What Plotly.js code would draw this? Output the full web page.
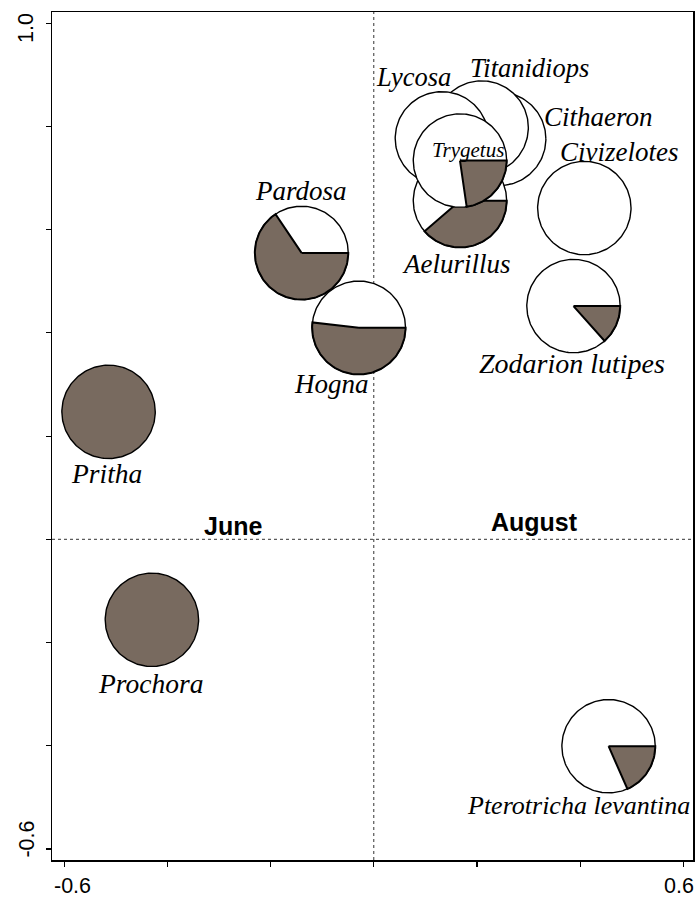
<!DOCTYPE html>
<html>
<head>
<meta charset="utf-8">
<script src="https://cdn.plot.ly/plotly-3.0.1.min.js"></script>
<style>
  html, body { margin: 0; padding: 0; background: #fff; }
  #chart { width: 697px; height: 897px; }
</style>
</head>
<body>
<div id="chart"></div>
<script>
// Species scores on the first two ordination axes and the share of catches in June
const species = ['Pritha', 'Prochora', 'Pardosa', 'Hogna', 'Cithaeron', 'Titanidiops',
                 'Lycosa', 'Aelurillus', 'Trygetus', 'Civizelotes', 'Zodarion lutipes',
                 'Pterotricha levantina'];
const axis1 = [-0.514, -0.430, -0.140, -0.029, 0.243, 0.209, 0.132, 0.167, 0.167, 0.408, 0.387, 0.455];
const axis2 = [0.247, -0.156, 0.555, 0.410, 0.776, 0.798, 0.777, 0.656, 0.734, 0.642, 0.452, -0.401];
const juneShare = [1, 1, 0.656, 0.518, 0, 0, 0, 0.387, 0.227, 0, 0.134, 0.184];

// Month centroids
const months = ['June', 'August'];
const monthAxis1 = [-0.273, 0.311];
const monthAxis2 = [0.026, 0.034];

// Axis ticks every 0.2; only the end values are labelled
const xTickValues = [-0.6, -0.4, -0.2, 0, 0.2, 0.4, 0.6];
const yTickValues = [-0.6, -0.4, -0.2, 0, 0.2, 0.4, 0.6, 0.8, 1.0];
const xEndValues = [-0.6, 0.6];
const xEndText = ['-0.6', '0.6'];
const yEndValues = [-0.6, 1.0];
const yEndText = ['-0.6', '1.0'];

// Drawing settings
const PIE_RADIUS = 0.0905;
const JUNE_FILL = '#786a5f';
const labelShift = [[-2, -62], [-1, -64], [-1, 62], [-27, -56], [99, 22], [48, 60],
                    [-28, 61], [-3, -63], [8, 11], [35, 56], [-1, -57], [-30, -59]];
const labelSize = [27.5, 27.5, 27, 27, 27, 26.5, 26.5, 27, 21, 27, 28, 26];
const xEndShift = [8, -4.5];   // end labels sit slightly inwards of their ticks
const yEndShift = [10, -5];
const TICK_FONT = { family: 'Liberation Sans, Arial, sans-serif', size: 21.5, color: '#000' };

function disc(cx, cy) {
  const xs = [], ys = [];
  for (let i = 0; i <= 180; i++) {
    const a = (i / 180) * 2 * Math.PI;
    xs.push(cx + PIE_RADIUS * Math.cos(a));
    ys.push(cy + PIE_RADIUS * Math.sin(a));
  }
  return { xs, ys };
}

// Wedge from 3 o'clock, running clockwise over the given share
function wedge(cx, cy, share) {
  const xs = [cx], ys = [cy];
  const steps = Math.max(4, Math.round(share * 180));
  for (let i = 0; i <= steps; i++) {
    const a = -(i / steps) * share * 2 * Math.PI;
    xs.push(cx + PIE_RADIUS * Math.cos(a));
    ys.push(cy + PIE_RADIUS * Math.sin(a));
  }
  xs.push(cx); ys.push(cy);
  return { xs, ys };
}

const traces = [];
species.forEach((name, i) => {
  const cx = axis1[i], cy = axis2[i], f = juneShare[i];
  const d = disc(cx, cy);
  traces.push({
    type: 'scatter', mode: 'lines', x: d.xs, y: d.ys, fill: 'toself',
    fillcolor: f >= 1 ? JUNE_FILL : '#ffffff',
    line: { color: '#000', width: 1.4 }, hoverinfo: 'skip', showlegend: false
  });
  if (f > 0 && f < 1) {
    const w = wedge(cx, cy, f);
    traces.push({
      type: 'scatter', mode: 'lines', x: w.xs, y: w.ys, fill: 'toself',
      fillcolor: JUNE_FILL, line: { color: '#000', width: 2 },
      hoverinfo: 'skip', showlegend: false
    });
  }
});

const annotations = species.map((name, i) => ({
  x: axis1[i], y: axis2[i], xref: 'x', yref: 'y', text: name, showarrow: false,
  xanchor: 'center', yanchor: 'middle',
  xshift: labelShift[i][0], yshift: labelShift[i][1],
  font: { family: 'Liberation Serif, Times New Roman, serif', size: labelSize[i], style: 'italic', color: '#000' }
}));
months.forEach((m, i) => annotations.push({
  x: monthAxis1[i], y: monthAxis2[i], xref: 'x', yref: 'y', text: m, showarrow: false,
  xanchor: 'center', yanchor: 'middle',
  font: { family: 'Liberation Sans, Arial, sans-serif', size: 25, weight: 'bold', color: '#000' }
}));
// End-of-axis tick labels
xEndValues.forEach((v, i) => annotations.push({
  x: v, y: 0, xref: 'x', yref: 'paper', text: xEndText[i], showarrow: false,
  xanchor: 'center', yanchor: 'middle', xshift: xEndShift[i], yshift: -25.5, font: TICK_FONT
}));
yEndValues.forEach((v, i) => annotations.push({
  x: 0, y: v, xref: 'paper', yref: 'y', text: yEndText[i], showarrow: false, textangle: -90,
  xanchor: 'center', yanchor: 'middle', xshift: -25.3, yshift: yEndShift[i], font: TICK_FONT
}));

const axisStyle = {
  showgrid: false, zeroline: false, showticklabels: false,
  ticks: 'outside', ticklen: 5, tickwidth: 1.2, tickcolor: '#000',
  showline: true, mirror: true, linecolor: '#000', linewidth: 1.5, fixedrange: true
};

const layout = {
  width: 697, height: 897,
  margin: { l: 52, r: 4, t: 12, b: 37, pad: 0 },
  paper_bgcolor: '#fff', plot_bgcolor: '#fff',
  showlegend: false,
  font: { family: 'Liberation Sans, Arial, sans-serif', color: '#000' },
  xaxis: Object.assign({}, axisStyle, { range: [-0.6236, 0.6186], tickvals: xTickValues }),
  yaxis: Object.assign({}, axisStyle, { range: [-0.6215, 1.0219], tickvals: yTickValues }),
  shapes: [
    { type: 'line', xref: 'x', yref: 'paper', x0: 0, x1: 0, y0: 0, y1: 1, layer: 'below',
      line: { color: '#333', width: 1, dash: 'dot' } },
    { type: 'line', xref: 'paper', yref: 'y', x0: 0, x1: 1, y0: 0, y1: 0, layer: 'below',
      line: { color: '#333', width: 1, dash: 'dot' } }
  ],
  annotations
};

Plotly.newPlot('chart', traces, layout, { staticPlot: true, displayModeBar: false });
</script>
</body>
</html>
